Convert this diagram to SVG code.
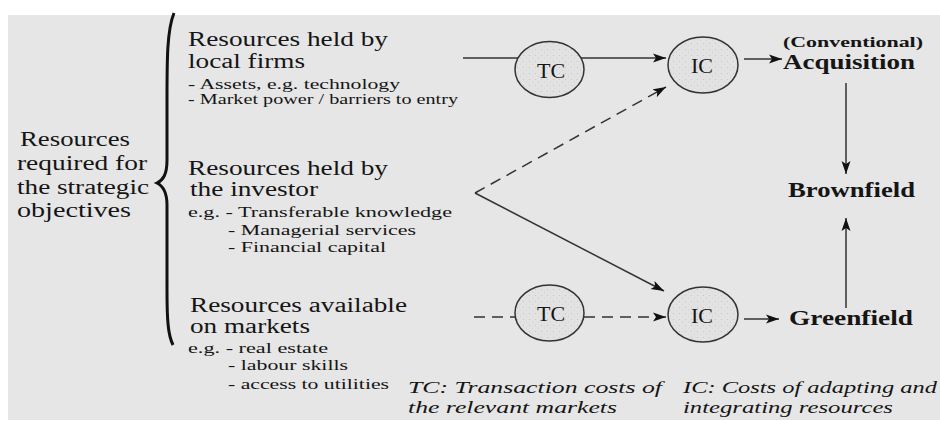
<svg xmlns="http://www.w3.org/2000/svg" width="940" height="421" viewBox="0 0 940 421" font-family="Liberation Serif, Times New Roman, Times, serif">
<defs>
<marker id="ah" markerUnits="userSpaceOnUse" markerWidth="14" markerHeight="10" refX="13" refY="5" orient="auto">
<path d="M0,0.5 L13,5 L0,9.5 L3,5 Z" fill="#111"/>
</marker>
<pattern id="dots" width="6" height="6" patternUnits="userSpaceOnUse">
<rect width="6" height="6" fill="#e2e2e2"/>
<circle cx="1.5" cy="1.5" r="0.6" fill="#c4c4c4"/>
<circle cx="4.5" cy="4" r="0.5" fill="#cfcfcf"/>
</pattern>
</defs>
<style>
text{font-family:"Liberation Serif","Times New Roman",Times,serif;fill:#151515}
.big{font-size:20px}
.sm{font-size:15px}
.bold{font-weight:bold;font-size:21px}
.cv{font-weight:bold;font-size:14px}
.it{font-style:italic;font-size:17px}
.lbl{font-size:22px;text-anchor:middle}
.ell{fill:url(#dots);stroke:#333;stroke-width:1.5}
.ln{fill:none;stroke:#333;stroke-width:1.5}
.dash{stroke-dasharray:11 7}
</style>
<rect x="0" y="0" width="940" height="421" fill="#ffffff"/>
<rect x="8" y="15" width="932" height="405" fill="#e6e6e6"/>

<g id="objectives">
<text class="big" x="20" y="146" textLength="110" lengthAdjust="spacingAndGlyphs">Resources</text>
<text class="big" x="17" y="170" textLength="130" lengthAdjust="spacingAndGlyphs">required for</text>
<text class="big" x="17" y="194" textLength="132" lengthAdjust="spacingAndGlyphs">the strategic</text>
<text class="big" x="17" y="217" textLength="114" lengthAdjust="spacingAndGlyphs">objectives</text>
</g>

<g id="brace">
<path d="M174,13 C167,30 167,60 167,100 L167,160 C167,175 163,180 157,183 C163,186 167,192 167,205 L167,290 C167,320 168,335 173,345" fill="none" stroke="#111" stroke-width="3"/>
</g>

<g id="local-firms">
<text class="big" x="188" y="46" textLength="200" lengthAdjust="spacingAndGlyphs">Resources held by</text>
<text class="big" x="188" y="68" textLength="117" lengthAdjust="spacingAndGlyphs">local firms</text>
<text class="sm" x="188" y="89" textLength="212" lengthAdjust="spacingAndGlyphs">- Assets, e.g. technology</text>
<text class="sm" x="188" y="104" textLength="270" lengthAdjust="spacingAndGlyphs">- Market power / barriers to entry</text>
</g>

<g id="investor">
<text class="big" x="188" y="175" textLength="200" lengthAdjust="spacingAndGlyphs">Resources held by</text>
<text class="big" x="190" y="196" textLength="128" lengthAdjust="spacingAndGlyphs">the investor</text>
<text class="sm" x="188" y="217" textLength="264" lengthAdjust="spacingAndGlyphs">e.g. - Transferable knowledge</text>
<text class="sm" x="228" y="235" textLength="188" lengthAdjust="spacingAndGlyphs">- Managerial services</text>
<text class="sm" x="228" y="252" textLength="158" lengthAdjust="spacingAndGlyphs">- Financial capital</text>
</g>

<g id="markets">
<text class="big" x="190" y="312" textLength="217" lengthAdjust="spacingAndGlyphs">Resources available</text>
<text class="big" x="190" y="333" textLength="120" lengthAdjust="spacingAndGlyphs">on markets</text>
<text class="sm" x="188" y="353" textLength="140" lengthAdjust="spacingAndGlyphs">e.g. - real estate</text>
<text class="sm" x="228" y="370" textLength="120" lengthAdjust="spacingAndGlyphs">- labour skills</text>
<text class="sm" x="228" y="389" textLength="161" lengthAdjust="spacingAndGlyphs">- access to utilities</text>
</g>

<g id="tc-top">
<ellipse class="ell" cx="549.5" cy="69.5" rx="34.5" ry="28"/>
<text class="lbl" x="551" y="77.5">TC</text>
</g>
<g id="ic-top">
<ellipse class="ell" cx="703" cy="65" rx="35" ry="28"/>
<text class="lbl" x="702" y="73">IC</text>
</g>
<g id="tc-bottom">
<ellipse class="ell" cx="549.5" cy="313" rx="34.5" ry="28"/>
<text class="lbl" x="551" y="321">TC</text>
</g>
<g id="ic-bottom">
<ellipse class="ell" cx="703" cy="314.5" rx="35" ry="27.5"/>
<text class="lbl" x="702" y="322.5">IC</text>
</g>

<g id="acquisition">
<text class="cv" x="783" y="47" textLength="140" lengthAdjust="spacingAndGlyphs">(Conventional)</text>
<text class="bold" x="783" y="69" textLength="132" lengthAdjust="spacingAndGlyphs">Acquisition</text>
</g>
<g id="brownfield">
<text class="bold" x="788" y="197" textLength="127" lengthAdjust="spacingAndGlyphs">Brownfield</text>
</g>
<g id="greenfield">
<text class="bold" x="789" y="325" textLength="124" lengthAdjust="spacingAndGlyphs">Greenfield</text>
</g>

<g id="legend">
<text class="it" x="408" y="393" textLength="254" lengthAdjust="spacingAndGlyphs">TC: Transaction costs of</text>
<text class="it" x="408" y="413" textLength="209" lengthAdjust="spacingAndGlyphs">the relevant markets</text>
<text class="it" x="683" y="393" textLength="254" lengthAdjust="spacingAndGlyphs">IC: Costs of adapting and</text>
<text class="it" x="683" y="413" textLength="210" lengthAdjust="spacingAndGlyphs">integrating resources</text>
</g>

<g id="connectors">
<line class="ln" x1="463" y1="58" x2="518" y2="58"/>
<line class="ln" x1="581" y1="58" x2="666" y2="58" marker-end="url(#ah)"/>
<line class="ln" x1="744" y1="59" x2="782" y2="59" marker-end="url(#ah)"/>
<line class="ln" x1="846" y1="83" x2="846" y2="174" marker-end="url(#ah)"/>
<line class="ln" x1="846" y1="308" x2="846" y2="218" marker-end="url(#ah)"/>
<line class="ln" x1="744" y1="319" x2="779" y2="319" marker-end="url(#ah)"/>
<line class="ln dash" x1="474" y1="317" x2="515" y2="317"/>
<line class="ln dash" x1="584" y1="317" x2="666" y2="317" marker-end="url(#ah)"/>
<line class="ln dash" x1="475" y1="193" x2="666" y2="87" marker-end="url(#ah)"/>
<line class="ln" x1="475" y1="193" x2="664" y2="291" marker-end="url(#ah)"/>
</g>
</svg>
